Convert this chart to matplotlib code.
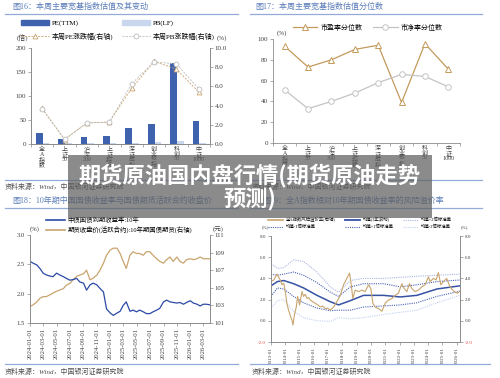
import numpy as np
import pandas as pd
import matplotlib
matplotlib.use('Agg')
import matplotlib.pyplot as plt
import matplotlib.dates as mdates
from matplotlib.lines import Line2D
from matplotlib.patches import Patch, Rectangle
from matplotlib.ticker import FormatStrFormatter

plt.rcParams['font.family'] = ['Liberation Serif', 'Noto Sans CJK SC', 'DejaVu Sans']
plt.rcParams['axes.unicode_minus'] = False

# --- data: fig16 / fig17 (broad indices) ---
idx_names = ['全\nA\n指\n数', '上\n证\n50', '沪\n深\n300', '上\n证\n指\n数',
             '深\n证\n成\n指', '创\n业\n板\n指', '科\n创\n50', '中\n证\n1000']
pe_ttm = [22, 10.5, 14.5, 16.5, 34, 42, 168, 48.5]
pb_lf = [1.5, 1.2, 1.4, 1.3, 2.0, 4.5, 6.2, 2.5]
pe_chg = [3.7, 0.45, 2.2, 2.3, 5.8, 8.6, 7.8, 5.4]
pb_chg = [3.66, 0.5, 2.2, 2.26, 6.27, 8.57, 8.33, 5.75]
pe_pct = [93, 73, 80, 90, 94, 39, 95.5, 71]
pb_pct = [51, 33, 40, 48, 58, 66, 64, 54]

# --- data: fig18 (10y yield vs T futures), semi-monthly ---
yield_10y = [2.55, 2.52, 2.49, 2.43, 2.35, 2.32, 2.30, 2.29, 2.35, 2.32,
             2.29, 2.26, 2.23, 2.24, 2.26, 2.20, 2.18, 2.06, 2.15, 2.18,
             2.15, 2.09, 2.03, 1.74, 1.67, 1.63, 1.67, 1.70, 1.80, 1.86,
             1.70, 1.72, 1.69, 1.72, 1.69, 1.66, 1.66, 1.69, 1.72, 1.75,
             1.86, 1.89, 1.86, 1.85, 1.84, 1.85, 1.82, 1.85, 1.88, 1.84,
             1.82, 1.79, 1.82, 1.82, 1.81]
t_future = [102.9, 103.05, 103.4, 103.8, 104.0, 104.0, 104.2, 104.4, 104.6, 104.75,
            104.9, 105.3, 105.5, 105.9, 106.3, 106.45, 106.6, 107.0, 105.9, 106.1,
            106.45, 107.0, 107.8, 108.7, 109.3, 109.5, 109.5, 108.9, 108.0, 107.2,
            108.7, 109.1, 108.9, 108.9, 108.7, 109.1, 109.1, 108.7, 108.3, 108.0,
            107.8, 108.2, 108.5, 108.0, 108.5, 108.0, 107.8, 108.2, 108.3, 108.2,
            108.3, 108.5, 108.3, 108.3, 108.3]

# --- data: fig19 (equity risk premium) ---
erp_year = [2013.00, 2013.19, 2013.42, 2013.65, 2013.77, 2013.89, 2014.00, 2014.12,
            2014.23, 2014.35, 2014.47, 2014.54, 2014.63, 2014.77, 2014.86, 2015.00,
            2015.17, 2015.28, 2015.40, 2015.52, 2015.63, 2015.75, 2015.92, 2016.10,
            2016.27, 2016.45, 2016.62, 2016.80, 2016.97, 2017.15, 2017.38, 2017.61,
            2017.85, 2018.08, 2018.31, 2018.50, 2018.59, 2018.73, 2018.89, 2019.13,
            2019.36, 2019.59, 2019.83, 2019.99, 2020.13, 2020.29, 2020.53, 2020.76,
            2020.99, 2021.22, 2021.46, 2021.69, 2021.92, 2022.16, 2022.32, 2022.51,
            2022.69, 2022.86, 2023.09, 2023.32, 2023.55, 2023.79, 2024.02, 2024.14,
            2024.37, 2024.56, 2024.72, 2024.88, 2025.07, 2025.30, 2025.53, 2025.72,
            2025.88, 2026.05, 2026.23]
erp_val = [3.7, 3.85, 4.4, 3.85, 3.4, 3.55, 2.75, 1.6,
           1.0, 0.5, 0.05, -0.4, 0.5, 1.3, 2.3, 1.5,
           2.75, 2.3, 2.5, 2.1, 2.2, 1.95, 1.8, 1.65,
           1.5, 1.3, 1.4, 1.15, 1.2, 1.0, 1.3, 1.8,
           2.4, 3.4, 4.0, 4.5, 3.7, 2.1, 2.9, 2.75,
           2.9, 2.75, 3.4, 3.05, 1.65, 1.3, 1.15, 0.9,
           1.65, 1.95, 2.1, 2.4, 2.6, 3.5, 3.05, 2.75,
           3.5, 3.05, 2.75, 2.9, 3.2, 3.4, 4.15, 3.7,
           4.0, 3.85, 4.55, 3.4, 3.7, 4.0, 3.2, 2.9,
           2.7, 2.6, 2.8]
band_year = [2013.00, 2013.45, 2013.89, 2014.58, 2015.28, 2016.22, 2017.15, 2017.73,
             2018.55, 2019.48, 2020.88, 2022.05, 2023.21, 2024.61, 2026.23]
band_p2 = [5.4, 4.95, 5.0, 5.75, 5.6, 4.6, 3.2, 2.7, 3.8, 4.0, 4.0, 4.1, 4.2, 4.3, 4.4]
band_p1 = [4.4, 4.3, 4.4, 4.6, 4.3, 3.6, 2.7, 2.3, 3.2, 3.5, 3.5, 3.2, 3.4, 3.7, 3.85]
band_mean = [3.3, 3.7, 3.8, 3.5, 3.1, 2.4, 1.8, 1.5, 1.9, 2.4, 2.4, 2.25, 2.4, 3.0, 3.3]
band_m1 = [2.3, 3.1, 3.0, 2.3, 1.7, 1.2, 0.95, 1.0, 1.0, 1.3, 1.4, 1.5, 1.7, 2.3, 2.8]
band_m2 = [1.2, 1.9, 2.0, 0.9, 0.3, 0.0, -0.05, 0.3, 0.2, 0.3, 0.6, 0.8, 1.0, 1.7, 2.4]
year_ticks4 = list(range(2013, 2027))

W, H = 500, 378
TITLE_C = '#5b7cb8'
RULE_C = '#94abd8'
TXT_C = '#404040'
SRC = '资料来源：Wind，中国银河证券研究院'


def fx(x):
    return x / W


def fy(y):
    return 1 - y / H


def rect(l, t, r, b):
    return [fx(l), fy(b), (r - l) / W, (b - t) / H]


def header(x, y, text, x0, x1, ly):
    fig.text(fx(x), fy(y), text, fontsize=5.8, color=TITLE_C, ha='left', va='center')
    fig.add_artist(Line2D([fx(x0), fx(x1)], [fy(ly), fy(ly)], color=RULE_C, lw=0.9))


def source(x, y):
    fig.text(fx(x), fy(y), SRC, fontsize=5, color='#505050', style='italic',
             ha='left', va='center')


def style(ax, size):
    for s in ax.spines.values():
        s.set_color('#8c8c8c')
        s.set_linewidth(0.6)
    ax.spines['top'].set_visible(False)
    ax.tick_params(labelsize=size, colors='#8c8c8c', labelcolor=TXT_C,
                   length=2, width=0.5, pad=1.5)


fig = plt.figure(figsize=(5, 3.78), dpi=100)

# ---------------- fig16 ----------------
header(12, 7, '图16：本周主要宽基指数估值及其变动', 5, 238, 14)
ax1 = fig.add_axes(rect(31, 48, 210, 144))
x = np.arange(len(idx_names))
ax1.bar(x - 0.13, pe_ttm, 0.3, color='#3f62af', zorder=2)
ax1.bar(x + 0.17, pb_lf, 0.3, color='#c9d7ee', zorder=2)
ax1.set_xlim(-0.5, 7.5)
ax1.set_ylim(0, 200)
ax1.set_yticks([0, 50, 100, 150, 200])
ax1.set_xticks(np.arange(-0.5, 8))
ax1.set_xticklabels([])
style(ax1, 5)
ax1r = ax1.twinx()
ax1r.plot(x, pe_chg, color='#c9a46e', lw=0.6, ls=(0, (2.5, 1.5)), marker='^',
          ms=3.5, mfc='white', mew=0.6)
ax1r.plot(x, pb_chg, color='#bdbdbd', lw=0.6, ls=(0, (2.5, 1.5)), marker='o',
          ms=3.5, mfc='white', mew=0.6)
ax1r.set_ylim(0, 10)
ax1r.yaxis.set_major_formatter(FormatStrFormatter('%.1f'))
style(ax1r, 5)
for i, name in enumerate(idx_names):
    ax1.text(i, -0.03, name, transform=ax1.get_xaxis_transform(), ha='center',
             va='top', fontsize=4.3, linespacing=0.9, color=TXT_C)
h1 = [Patch(color='#3f62af'),
      Line2D([], [], color='#c9a46e', lw=0.6, ls=(0, (2.5, 1.5)), marker='^', ms=3.5, mfc='white', mew=0.6),
      Patch(color='#c9d7ee'),
      Line2D([], [], color='#bdbdbd', lw=0.6, ls=(0, (2.5, 1.5)), marker='o', ms=3.5, mfc='white', mew=0.6)]
l1 = ['PE(TTM)', '本周PE涨跌幅(右轴)', 'PB(LF)', '本周PB涨跌幅(右轴)']
fig.legend(h1, l1, ncol=2, loc='center', bbox_to_anchor=(fx(118), fy(30)),
           fontsize=5, frameon=False, handlelength=4, handleheight=0.6,
           columnspacing=1.2, labelspacing=0.9, handletextpad=0.5)
fig.text(fx(17), fy(38), '(倍)', fontsize=5, color=TXT_C, ha='left', va='center')
fig.text(fx(217), fy(38), '(%)', fontsize=5, color=TXT_C, ha='left', va='center')
source(5, 186)
fig.add_artist(Line2D([fx(5), fx(238)], [fy(180), fy(180)], color=RULE_C, lw=0.9))

# ---------------- fig17 ----------------
header(255, 7, '图17：本周主要宽基指数估值分位数', 250, 482, 14)
ax2 = fig.add_axes(rect(273, 39, 460, 143))
ax2.plot(x, pe_pct, color='#c49a5c', lw=0.9, marker='^', ms=4, mfc='white', mew=0.7)
ax2.plot(x, pb_pct, color='#c4c4c4', lw=0.9, marker='o', ms=4, mfc='white', mew=0.7)
ax2.set_xlim(-0.5, 7.5)
ax2.set_ylim(0, 100)
ax2.set_yticks(range(0, 101, 20))
ax2.set_xticks(np.arange(-0.5, 8))
ax2.set_xticklabels([])
style(ax2, 5)
ax2.spines['right'].set_visible(False)
for i, name in enumerate(idx_names):
    ax2.text(i, -0.03, name, transform=ax2.get_xaxis_transform(), ha='center',
             va='top', fontsize=4.3, linespacing=0.9, color=TXT_C)
h2 = [Line2D([], [], color='#c49a5c', lw=0.9, marker='^', ms=4, mfc='white', mew=0.7),
      Line2D([], [], color='#c4c4c4', lw=0.9, marker='o', ms=4, mfc='white', mew=0.7)]
fig.legend(h2, ['市盈率分位数', '市净率分位数'], ncol=2, loc='center',
           bbox_to_anchor=(fx(368), fy(27)), fontsize=5, frameon=False,
           handlelength=3.5, columnspacing=1.5, handletextpad=0.5)
fig.text(fx(277), fy(33), '(%)', fontsize=5, color=TXT_C, ha='left', va='center')
source(252, 186)
fig.add_artist(Line2D([fx(250), fx(482)], [fy(180), fy(180)], color=RULE_C, lw=0.9))

# ---------------- fig18 ----------------
header(12, 201, '图18：10年期中国国债收益率与国债期货活跃合约收盘价', 5, 238, 208)
dates3 = pd.date_range('2024-01-01', '2026-04-01', freq='SMS')
ax3 = fig.add_axes(rect(30, 235, 210, 323))
ax3.plot(dates3, yield_10y, color='#2b4aa6', lw=0.9)
ax3.set_ylim(1.5, 3.0)
ax3.set_yticks([1.5, 2.0, 2.5, 3.0])
ax3.yaxis.set_major_formatter(FormatStrFormatter('%.1f'))
ax3.set_xlim(dates3[0], dates3[-1])
ax3.xaxis.set_major_locator(mdates.MonthLocator(bymonth=[1, 3, 5, 7, 9, 11]))
ax3.xaxis.set_major_formatter(mdates.DateFormatter('%Y-%m-%d'))
style(ax3, 4.8)
ax3.tick_params(axis='x', labelrotation=90)
ax3r = ax3.twinx()
ax3r.plot(dates3, t_future, color='#c9a46e', lw=0.9)
ax3r.set_ylim(101, 111)
ax3r.set_yticks(range(101, 112, 2))
style(ax3r, 4.8)
ax3.set_zorder(ax3r.get_zorder() + 1)
ax3.patch.set_visible(False)
h3 = [Line2D([], [], color='#2b4aa6', lw=1.2), Line2D([], [], color='#c9a46e', lw=1.2)]
fig.legend(h3, ['中债国债到期收益率:10年', '期货收盘价(活跃合约):10年期国债期货(右轴)'],
           loc='upper left', bbox_to_anchor=(fx(40), fy(211)), fontsize=4.6,
           frameon=False, handlelength=3, labelspacing=0.5, handletextpad=0.4)
fig.text(fx(30), fy(229), '(%)', fontsize=4.8, color=TXT_C, ha='left', va='center')
fig.text(fx(213), fy(229), '(元)', fontsize=4.8, color=TXT_C, ha='left', va='center')
source(5, 371)
fig.add_artist(Line2D([fx(5), fx(238)], [fy(364), fy(364)], color=RULE_C, lw=0.9))

# ---------------- fig19 ----------------
header(262, 201, '图19：全A指数相对10年期国债收益率的风险溢价率', 250, 482, 208)
ax4 = fig.add_axes(rect(271, 236, 460, 342))
c_p2, c_p1, c_mean, c_m2 = '#aab7e2', '#4a63b5', '#3552a3', '#c3d1f1'
ax4.plot(band_year, band_p2, color=c_p2, lw=0.8, ls=(0, (1, 1)))
ax4.plot(band_year, band_p1, color=c_p1, lw=0.8, ls=(0, (1, 1)))
ax4.plot(band_year, band_mean, color=c_mean, lw=1.1)
ax4.plot(band_year, band_m1, color=c_p1, lw=0.8, ls=(0, (1, 1)))
ax4.plot(band_year, band_m2, color=c_m2, lw=0.8, ls=(0, (1, 1)))
ax4.plot(erp_year, erp_val, color='#c9a46e', lw=0.8)
ax4.set_xlim(2013.0, 2026.23)
ax4.set_ylim(-2, 8)
ax4.set_yticks([-2, 0, 2, 4, 6, 8])
ax4.yaxis.set_major_formatter(FormatStrFormatter('%.1f'))
ax4.set_xticks(year_ticks4)
ax4.set_xticklabels(['%d-01' % y for y in year_ticks4], rotation=90)
style(ax4, 3.6)
ax4r = ax4.twinx()
ax4r.set_ylim(-2, 8)
ax4r.set_yticks([-2, 0, 2, 4, 6, 8])
ax4r.yaxis.set_major_formatter(FormatStrFormatter('%.1f'))
style(ax4r, 3.6)
for a in (ax4, ax4r):
    a.get_yticklabels()[0].set_color('#e05050')
h4 = [Line2D([], [], color='#c9a46e', lw=1.2),
      Line2D([], [], color=c_p1, lw=0.8, ls=(0, (1, 1))),
      Line2D([], [], color=c_mean, lw=1.3),
      Line2D([], [], color=c_p1, lw=0.8, ls=(0, (1, 1))),
      Line2D([], [], color=c_p2, lw=0.8, ls=(0, (1, 1))),
      Line2D([], [], color=c_m2, lw=0.8, ls=(0, (1, 1)))]
l4 = ['全A指数风险溢价率(右轴)', '均值-1倍标准差', '均值(3年滚动)', '均值+1倍标准差',
      '均值+2倍标准差', '均值-2倍标准差']
fig.legend(h4, l4, ncol=3, loc='center', bbox_to_anchor=(fx(360), fy(223)),
           fontsize=3.2, frameon=False, handlelength=3.4, columnspacing=2.2,
           labelspacing=0.6, handletextpad=0.5)
fig.text(fx(262), fy(227), '(%)', fontsize=3.6, color=TXT_C, ha='left', va='center')
fig.text(fx(461), fy(227), '(%)', fontsize=3.6, color=TXT_C, ha='left', va='center')
source(252, 371)
fig.add_artist(Line2D([fx(250), fx(490)], [fy(364), fy(364)], color=RULE_C, lw=0.9))

# ---------------- overlay banner ----------------
fig.add_artist(Rectangle((fx(68), fy(218)), (432 - 68) / W, (218 - 155) / H,
                         transform=fig.transFigure, facecolor='#5e5e5e', alpha=0.72,
                         edgecolor='none', zorder=20))
fig.text(fx(250), fy(175), '期货原油国内盘行情(期货原油走势', fontsize=16, fontweight='bold',
         color='white', ha='center', va='center', family=['Noto Sans CJK SC'], zorder=21)
fig.text(fx(250), fy(200), '预测)', fontsize=16, fontweight='bold',
         color='white', ha='center', va='center', family=['Noto Sans CJK SC'], zorder=21)

fig.savefig('out.png', dpi=100)
